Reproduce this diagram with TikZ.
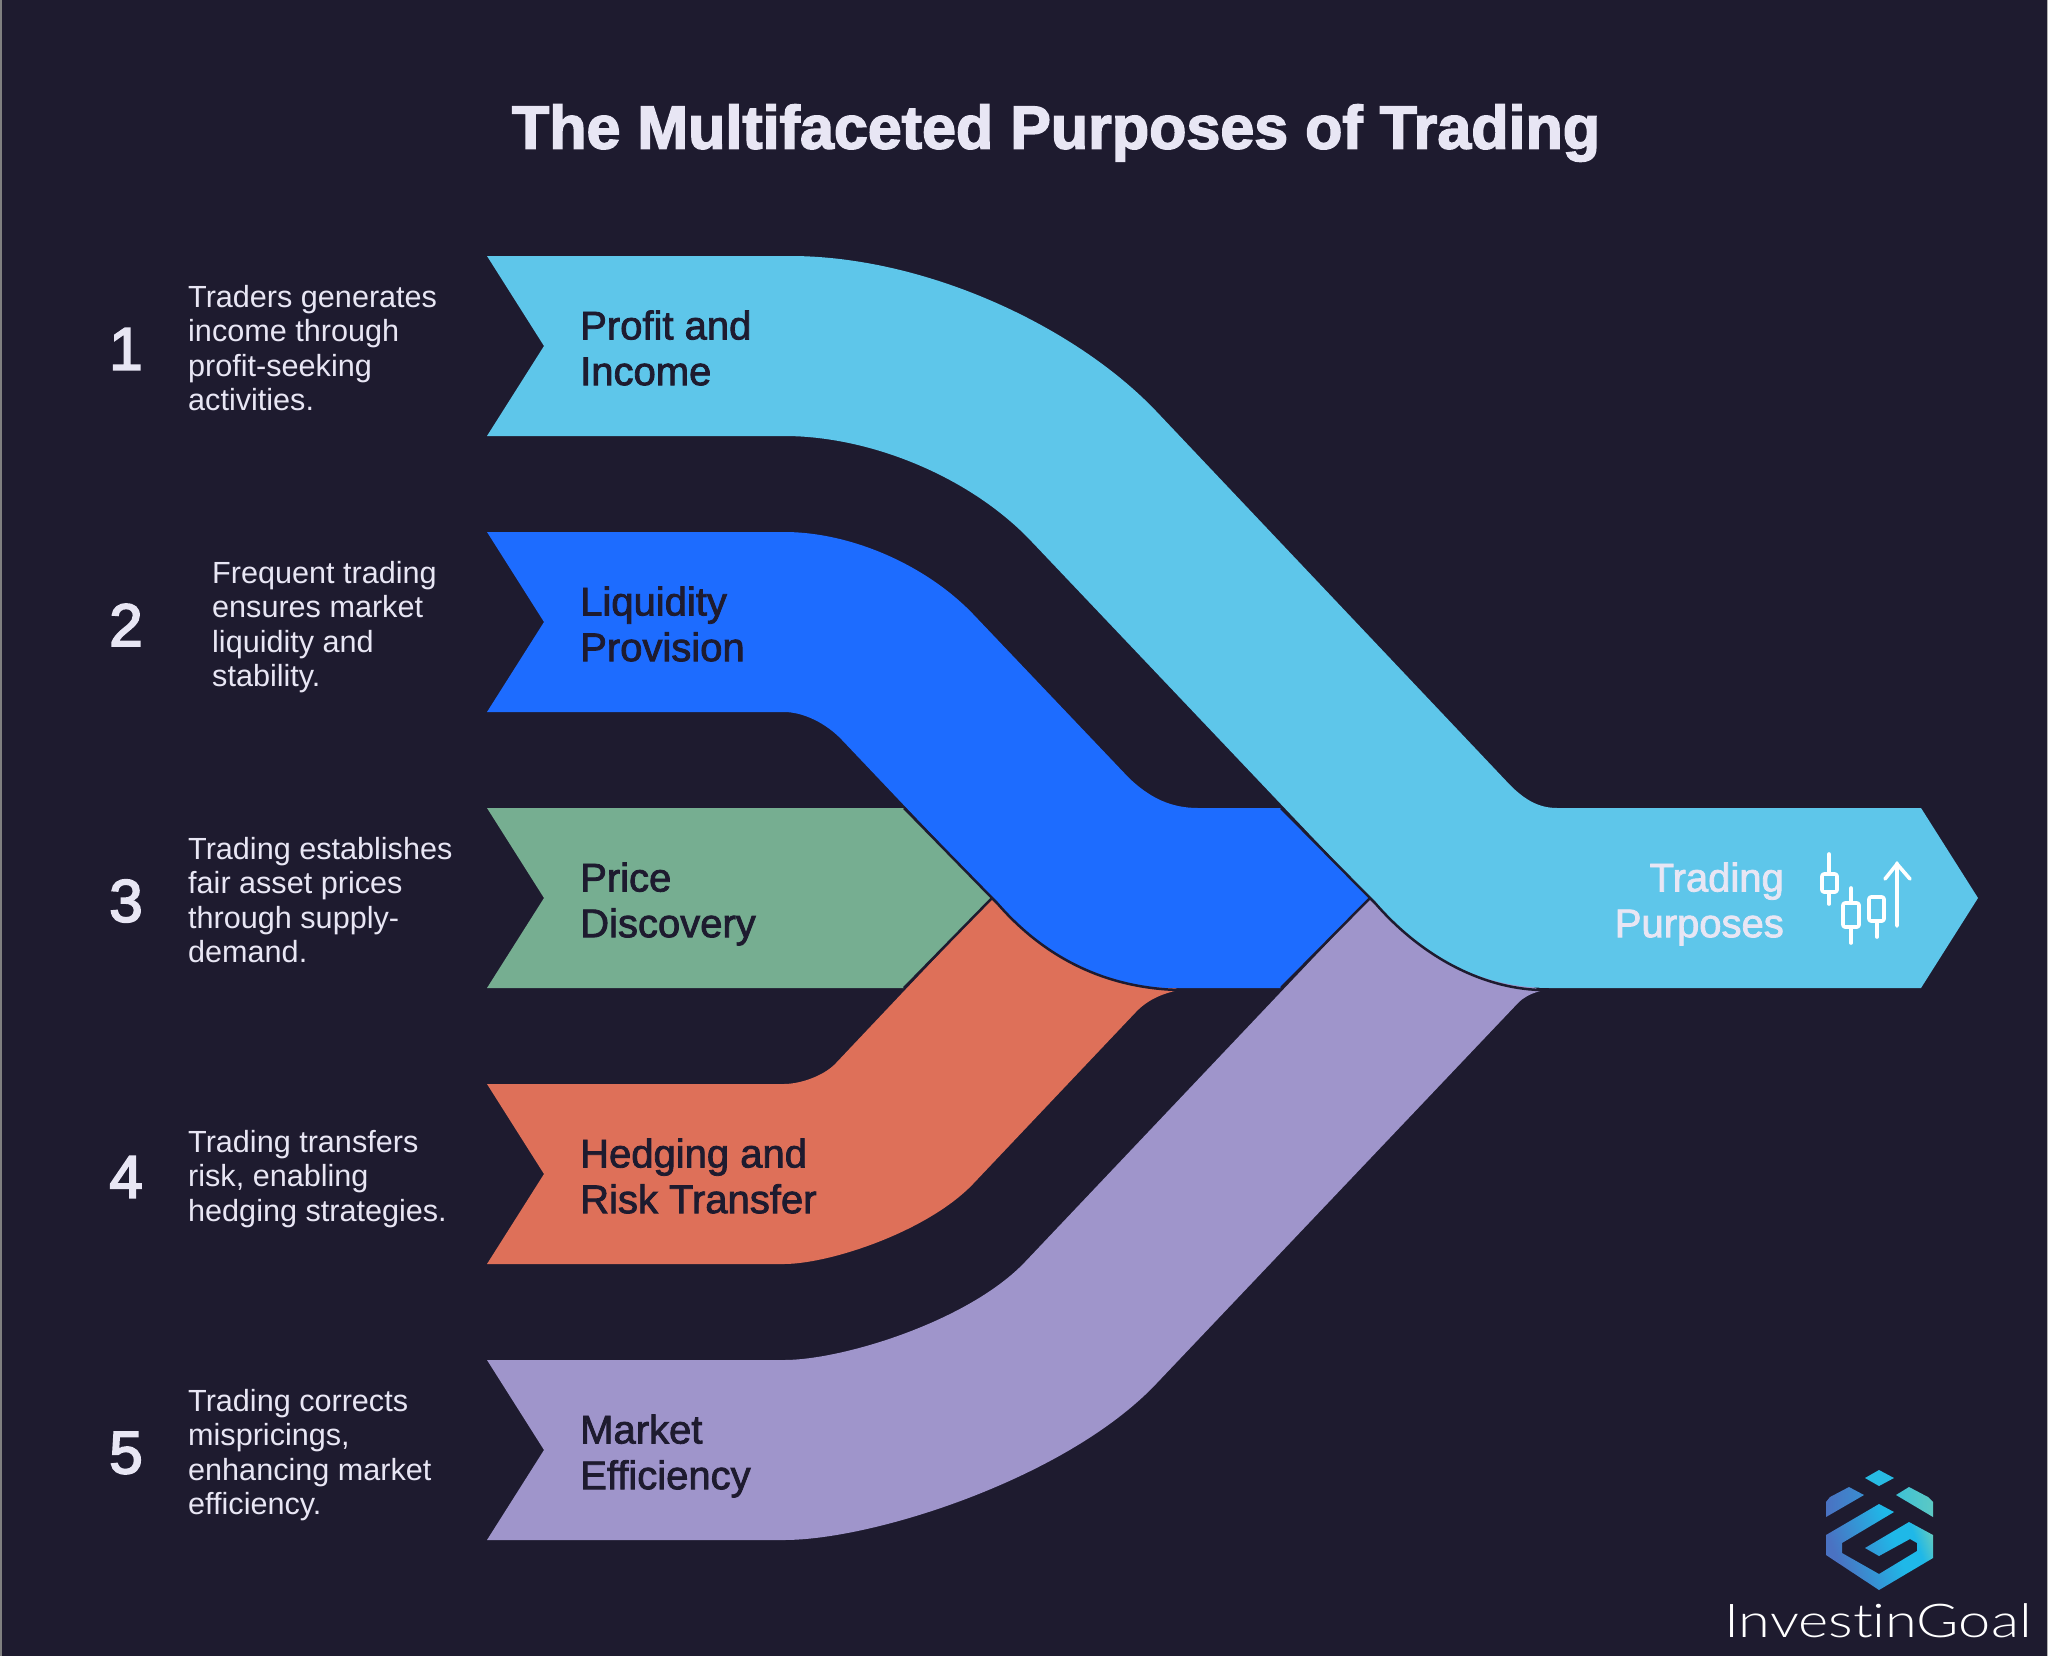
\documentclass[tikz,border=0pt]{standalone}
\usepackage{fontspec}
\setmainfont{Liberation Sans}
\newfontfamily\semifont[FakeBold=2]{Liberation Sans}
\newfontfamily\numfont[FakeBold=3]{Liberation Sans}
\newfontfamily\titlefont[UprightFont=* Bold,FakeBold=2.5]{Liberation Sans}
\newfontfamily\logofont[FakeStretch=1.24,Ligatures=NoCommon]{Lato Light}
\definecolor{bgdark}{HTML}{1E1B2F}
\definecolor{textlight}{HTML}{E8E6F4}
\definecolor{ribboncyan}{HTML}{5EC6EA}
\definecolor{ribbonblue}{HTML}{1D6CFF}
\definecolor{ribbongreen}{HTML}{76AE91}
\definecolor{ribbonorange}{HTML}{DE7059}
\definecolor{ribbonpurple}{HTML}{9F95CB}
\definecolor{logoblue}{HTML}{4A72C2}
\definecolor{logocyan}{HTML}{1FB8E8}
\definecolor{logoteal}{HTML}{5CC9C4}
\pgfdeclarehorizontalshading{logoshade}{100bp}{color(0bp)=(logoblue);color(28bp)=(logoblue);color(58bp)=(logocyan);color(68bp)=(logocyan);color(76bp)=(logoteal);color(100bp)=(logoteal)}
\begin{document}
\begin{tikzpicture}[
    x=1pt,
    y=-1pt,
    number/.style={
		font=\fontsize{60}{60}\selectfont\numfont,
		text=textlight,
		inner sep=0pt
	},
	desc/.style={
		anchor=west,
		align=left,
		inner sep=0pt,
		text=textlight,
		font=\fontsize{30.6}{34.4}\selectfont
	},
	ribbon/.style={
		anchor=west,
		align=left,
		inner sep=0pt,
		text=bgdark,
		font=\fontsize{40}{45.7}\selectfont\semifont
	},
	seam/.style={
		draw=bgdark,
		line width=2.5pt
	},
	candle/.style={
		draw=white,
		line width=3.6pt,
		line cap=round,
		line join=round
	}
  ]

 \fill [bgdark] (0,0) rectangle (2048,1656);
 \fill [gray] (0,0) rectangle (1.5,1656);
 \fill [gray!60] (2046.5,0) rectangle (2048,1656);
 \coordinate (joinleft) at (992,898);
 \coordinate (joinright) at (1370,898);

 % // The title
 \node [font=\fontsize{61}{64}\selectfont\titlefont, text=textlight, inner sep=0pt] (title) at (1056,133) {The Multifaceted Purposes of Trading};

 % // The ribbons
 \fill [ribbonpurple] (487,1360) -- (784,1360) .. controls (843,1360) and (969,1321) .. (1025,1262)
   -- (joinright) -- (1478,950) -- (1540,991)
   .. controls (1530,994) and (1524,997) .. (1518,1003) -- (1156,1384)
   .. controls (1067,1478) and (874,1540) .. (784,1540) -- (487,1540) -- (544,1450) -- cycle;
 \fill [ribbonorange] (487,1084) -- (784,1084) .. controls (800,1084) and (824,1076) .. (836,1063)
   -- (joinleft) -- (1100,950) -- (1179,990)
   .. controls (1160,994) and (1146,1001) .. (1135,1013) -- (973,1184)
   .. controls (927,1232) and (829,1264) .. (784,1264) -- (487,1264) -- (544,1174) -- cycle;
 \fill [ribbongreen] (487,808) -- (904,808) -- (joinleft) -- (904,988) -- (487,988) -- (544,898) -- cycle;
 \fill [ribbonblue] (487,532) -- (784,532) .. controls (851,532) and (926,565) .. (973,614)
   -- (1129,778) .. controls (1150,798) and (1171,808) .. (1198,808)
   -- (1281,808) -- (joinright) -- (1281,988) -- (1172,988)
   .. controls (1102,988) and (1042,955) .. (997,903) -- (joinleft) -- (842,740)
   .. controls (826,723) and (803,712) .. (784,712) -- (487,712) -- (544,622) -- cycle;
 \fill [ribboncyan] (487,256) -- (790,256) .. controls (925,256) and (1075,326) .. (1156,411)
   -- (1510,785) .. controls (1524,799) and (1538,808) .. (1557,808)
   -- (1921,808) -- (1978,898) -- (1921,988) -- (1550,988)
   .. controls (1480,988) and (1420,955) .. (1375,903) -- (joinright) -- (1032,542)
   .. controls (972,478) and (872,436) .. (784,436) -- (487,436) -- (544,346) -- cycle;

 % seams between the ribbons
 \draw [seam] (904,808) -- (joinleft) -- (997,903) .. controls (1042,955) and (1102,988) .. (1179,990);
 \draw [seam] (joinleft) -- (904,988);
 \draw [seam] (1281,808) -- (joinright) -- (1375,903) .. controls (1420,955) and (1480,988) .. (1540,990);
 \draw [seam] (joinright) -- (1281,988);

 % // The numbers
 \node [number] (num1) at (126,349) {1};
 \node [number] (num2) at (126,625) {2};
 \node [number] (num3) at (126,901) {3};
 \node [number] (num4) at (126,1177) {4};
 \node [number] (num5) at (126,1453) {5};

 % // The descriptions
 \node [desc] (desc1) at (188,348) {Traders generates\\income through\\profit-seeking\\activities.};
 \node [desc] (desc2) at (212,627) {Frequent trading\\ensures market\\liquidity and\\stability.};
 \node [desc] (desc3) at (188,900) {Trading establishes\\fair asset prices\\through supply-\\demand.};
 \node [desc] (desc4) at (188,1179) {Trading transfers\\risk, enabling\\hedging strategies.};
 \node [desc] (desc5) at (188,1455) {Trading corrects\\mispricings,\\enhancing market\\efficiency.};

 % // The ribbon labels
 \node [ribbon] (label1) at (580,348) {Profit and\\Income};
 \node [ribbon] (label2) at (580,624) {Liquidity\\Provision};
 \node [ribbon] (label3) at (580,904) {Price\\Discovery};
 \node [ribbon] (label4) at (580,1176) {Hedging and\\Risk Transfer};
 \node [ribbon] (label5) at (580,1456) {Market\\Efficiency};
 \node [ribbon, anchor=east, align=right, text=textlight] (labelend) at (1784,904) {Trading\\Purposes};

 % candle icon
 \draw [candle] (1829,854) -- (1829,874) (1829,892) -- (1829,904);
 \draw [candle, rounded corners=2pt] (1822,874) rectangle (1837,892);
 \draw [candle] (1851,888) -- (1851,903) (1851,927) -- (1851,943);
 \draw [candle, rounded corners=2pt] (1843,903) rectangle (1859,927);
 \draw [candle] (1877,921) -- (1877,937);
 \draw [candle, rounded corners=2pt] (1869,897) rectangle (1884,921);
 \draw [candle] (1897,926) -- (1897,863) (1885,879) -- (1897,864) -- (1910,879);

 % // The logo
 \fill [logocyan!85!logoteal] (1865,1478) -- (1879,1470) -- (1894,1478) -- (1879,1486) -- cycle;
 \shade [left color=logoblue, right color=logoblue!60!logocyan] (1826,1517) -- (1826,1502) -- (1830,1497) -- (1849,1487) -- (1864,1495) -- cycle;
 \shade [left color=logocyan!50!logoteal, right color=logoteal] (1933,1517) -- (1933,1502) -- (1928,1497) -- (1909,1487) -- (1896,1495) -- cycle;
 \shade [shading=logoshade, shading angle=20]
   (1879,1504) -- (1826,1535) -- (1826,1555) -- (1879,1590) -- (1933,1558) -- (1933,1535) -- (1909,1522)
   -- (1865,1548) -- (1879,1556) -- (1910,1539) -- (1917,1543) -- (1917,1551) -- (1879,1574)
   -- (1842,1553) -- (1842,1543) -- (1894,1512) -- cycle;
 \node [anchor=base west, inner sep=0pt, text=white, font=\fontsize{46.6}{47}\selectfont\logofont] (logotext) at (1724,1637) {InvestinGoal};

\end{tikzpicture}
\end{document}
